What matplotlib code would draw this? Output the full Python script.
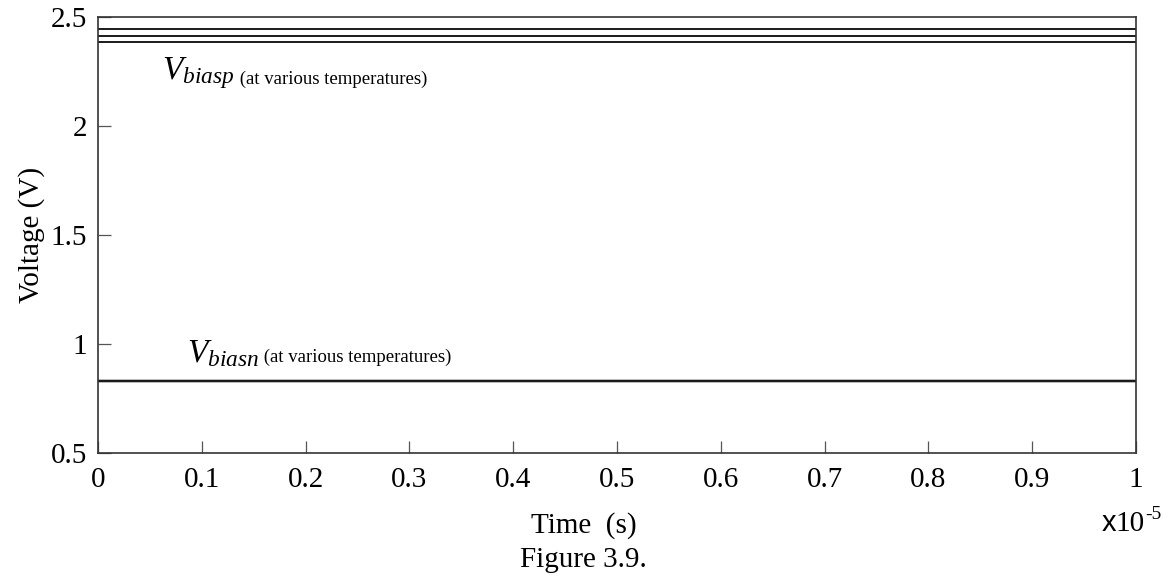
import matplotlib
matplotlib.use("Agg")

import matplotlib.pyplot as plt
import numpy as np

plt.rcParams["font.family"] = ["Liberation Serif", "DejaVu Serif"]
plt.rcParams["mathtext.fontset"] = "custom"
plt.rcParams["mathtext.rm"] = "Liberation Serif"
plt.rcParams["mathtext.it"] = "Liberation Serif:italic"

# simulation window (seconds) and the flat bias levels at each temperature
TIME_S = [0.0, 1e-5]
VBIASP = [2.442, 2.412, 2.385]
VBIASN = [0.828, 0.830, 0.832]

X_TICKS = [0, 0.1, 0.2, 0.3, 0.4, 0.5, 0.6, 0.7, 0.8, 0.9, 1]
X_TICK_LABELS = ["0", "0.1", "0.2", "0.3", "0.4", "0.5", "0.6", "0.7", "0.8", "0.9", "1"]
Y_TICKS = [0.5, 1, 1.5, 2, 2.5]
Y_TICK_LABELS = ["0.5", "1", "1.5", "2", "2.5"]

FS = 21

fig = plt.figure(figsize=(11.74, 5.77), dpi=100)
ax = fig.add_axes([0.0835, 0.2149, 0.8842, 0.7562])

t = np.array(TIME_S) * 1e5
for v in VBIASP:
    ax.plot(t, [v, v], color="#1a1a1a", lw=1.4)
for v in VBIASN:
    ax.plot(t, [v, v], color="#1a1a1a", lw=1.6)

ax.set_xlim(0, 1)
ax.set_ylim(0.5, 2.5)
ax.set_xticks(X_TICKS)
ax.set_xticklabels(X_TICK_LABELS)
ax.set_yticks(Y_TICKS)
ax.set_yticklabels(Y_TICK_LABELS)
ax.tick_params(direction="in", length=9, width=0.9, color="#555555",
               labelsize=FS, pad=8)
ax.tick_params(axis="x", pad=10)
for sp in ax.spines.values():
    sp.set_color("#333333")
    sp.set_linewidth(1.2)

ax.set_ylabel("Voltage (V)", fontsize=FS, labelpad=4)


def bias_label(x, y, sub):
    main = ax.text(x, y, r"$V_{%s}$" % sub, fontsize=24, va="baseline", ha="left")
    ax.annotate(" (at various temperatures)", xy=(1, 0), xycoords=main,
                xytext=(0, 5), textcoords="offset points",
                fontsize=13.5, va="baseline", ha="left")


bias_label(0.062, 2.215, "biasp")
bias_label(0.086, 0.917, "biasn")

fig.text(0.497, 0.090, "Time  (s)", fontsize=FS, ha="center", va="center")
fig.text(0.497, 0.030, "Figure 3.9.", fontsize=FS, ha="center", va="center")

# exponent multiplier for the time axis: x10^-5
mult = fig.text(0.938, 0.094, "x", fontsize=FS, ha="left", va="center",
                family="Liberation Sans")
ten = ax.annotate("10", xy=(1, 0), xycoords=mult, fontsize=FS,
                  ha="left", va="bottom", annotation_clip=False)
ax.annotate("-5", xy=(1, 1), xycoords=ten, xytext=(0, -9),
            textcoords="offset points", fontsize=14, ha="left", va="bottom",
            annotation_clip=False)

fig.savefig("out.png", dpi=100)
